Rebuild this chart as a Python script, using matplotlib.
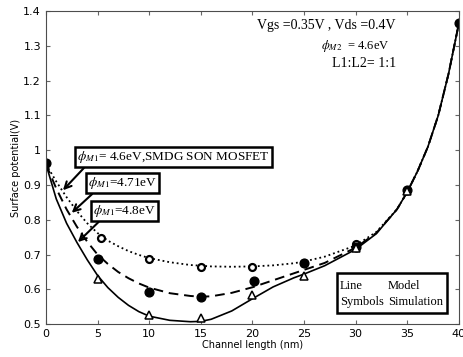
import matplotlib
matplotlib.use("Agg")
import matplotlib.pyplot as plt
from matplotlib.patches import Rectangle

plt.rcParams['mathtext.fontset'] = 'stix'

# model curves (lines)
x_line = [0, 1, 2, 3, 4, 5, 6, 7, 8, 9, 10, 12, 14, 15, 16, 18, 20, 22, 24, 25, 27, 30, 32, 34, 35, 36, 37, 38, 39, 40]
y_48 = [0.96, 0.86, 0.79, 0.735, 0.685, 0.64, 0.605, 0.577, 0.554, 0.536, 0.523, 0.511, 0.507, 0.508, 0.514, 0.538, 0.573, 0.607, 0.633, 0.644, 0.668, 0.715, 0.76, 0.83, 0.88, 0.94, 1.01, 1.10, 1.22, 1.365]
y_471 = [0.96, 0.89, 0.83, 0.78, 0.737, 0.70, 0.673, 0.65, 0.632, 0.617, 0.605, 0.589, 0.581, 0.579, 0.58, 0.59, 0.606, 0.626, 0.646, 0.656, 0.676, 0.72, 0.762, 0.83, 0.88, 0.94, 1.01, 1.10, 1.22, 1.365]
y_46 = [0.96, 0.91, 0.865, 0.825, 0.79, 0.762, 0.74, 0.724, 0.71, 0.699, 0.69, 0.678, 0.67, 0.668, 0.666, 0.665, 0.666, 0.669, 0.675, 0.68, 0.694, 0.726, 0.765, 0.83, 0.88, 0.94, 1.01, 1.10, 1.22, 1.365]

# simulation symbols
x_open = [5.3, 10, 15, 20, 25, 30]
y_open = [0.749, 0.686, 0.665, 0.664, 0.677, 0.73]
x_fill = [0, 5, 10, 15, 20.2, 25, 30, 35, 40]
y_fill = [0.963, 0.688, 0.593, 0.578, 0.623, 0.677, 0.722, 0.885, 1.365]
x_tri = [5, 10, 15, 20, 25, 30, 35]
y_tri = [0.63, 0.527, 0.518, 0.583, 0.637, 0.72, 0.883]

fig = plt.figure(figsize=(4.64, 3.57), dpi=100)
ax = fig.add_axes([0.099, 0.092, 0.890, 0.877])

ax.plot(x_line, y_48, 'k-', lw=1.2)
ax.plot(x_line, y_471, 'k--', lw=1.4, dashes=(5, 3))
ax.plot(x_line, y_46, 'k:', lw=1.3)
ax.plot(x_open, y_open, 'ko', mfc='white', mew=1.6, ms=5)
ax.plot(x_fill, y_fill, 'ko', ms=6.3)
ax.plot(x_tri, y_tri, 'k^', mfc='white', mew=1.1, ms=6.3)

ax.set_xlim(0, 40)
ax.set_ylim(0.5, 1.4)
ax.set_xticks(range(0, 41, 5))
ax.set_yticks([0.5, 0.6, 0.7, 0.8, 0.9, 1.0, 1.1, 1.2, 1.3, 1.4])
ax.set_yticklabels(['0.5', '0.6', '0.7', '0.8', '0.9', '1', '1.1', '1.2', '1.3', '1.4'])
ax.tick_params(direction='in', top=True, right=True, labelsize=8, length=3, color='0.4')
for lab in ax.get_xticklabels() + ax.get_yticklabels():
    lab.set_fontfamily(['Liberation Sans Narrow', 'DejaVu Sans'])
for s in ax.spines.values():
    s.set_color('0.3')

ax.set_xlabel('Channel length (nm)', fontsize=7, labelpad=1)
ax.set_ylabel('Surface potential(V)', fontsize=7, labelpad=2)

serif = ['Liberation Serif', 'DejaVu Serif']
ax.text(33.9, 1.358, 'Vgs =0.35V , Vds =0.4V', fontsize=10, family=serif, ha='right', va='center')
ax.text(33.3, 1.30, r'$\phi_{M2}$  = 4.6eV', fontsize=9, family=serif, ha='right', va='center')
ax.text(33.9, 1.248, 'L1:L2= 1:1', fontsize=10, family=serif, ha='right', va='center')

box = dict(boxstyle='square,pad=0.15', fc='white', ec='black', lw=1.8)
ax.annotate(r'$\phi_{M1}$= 4.6eV,SMDG SON MOSFET', xy=(1.65, 0.885), xytext=(3.0, 0.98),
            fontsize=9.5, family=serif, bbox=box, va='center',
            arrowprops=dict(arrowstyle='->', color='black', lw=1.5, mutation_scale=12,
                            shrinkA=0, shrinkB=0, relpos=(0.05, 0)))
ax.annotate(r'$\phi_{M1}$=4.71eV', xy=(2.5, 0.82), xytext=(4.1, 0.905),
            fontsize=9.5, family=serif, bbox=box, va='center',
            arrowprops=dict(arrowstyle='->', color='black', lw=1.5, mutation_scale=12,
                            shrinkA=0, shrinkB=0, relpos=(0.1, 0)))
ax.annotate(r'$\phi_{M1}$=4.8eV', xy=(3.1, 0.736), xytext=(4.6, 0.825),
            fontsize=9.5, family=serif, bbox=box, va='center',
            arrowprops=dict(arrowstyle='->', color='black', lw=1.5, mutation_scale=12,
                            shrinkA=0, shrinkB=0, relpos=(0.13, 0)))

# legend-like box: Line/Model, Symbols/Simulation
ax.add_patch(Rectangle((28.2, 0.532), 10.6, 0.115, fill=True, fc='white', ec='black', lw=1.8, zorder=5))
ax.text(28.45, 0.609, 'Line', fontsize=9, family=serif, va='center', zorder=6)
ax.text(33.1, 0.609, 'Model', fontsize=9, family=serif, va='center', zorder=6)
ax.text(28.45, 0.563, 'Symbols', fontsize=9, family=serif, va='center', zorder=6)
ax.text(33.1, 0.563, 'Simulation', fontsize=9, family=serif, va='center', zorder=6)

fig.savefig('out.png', dpi=100)
